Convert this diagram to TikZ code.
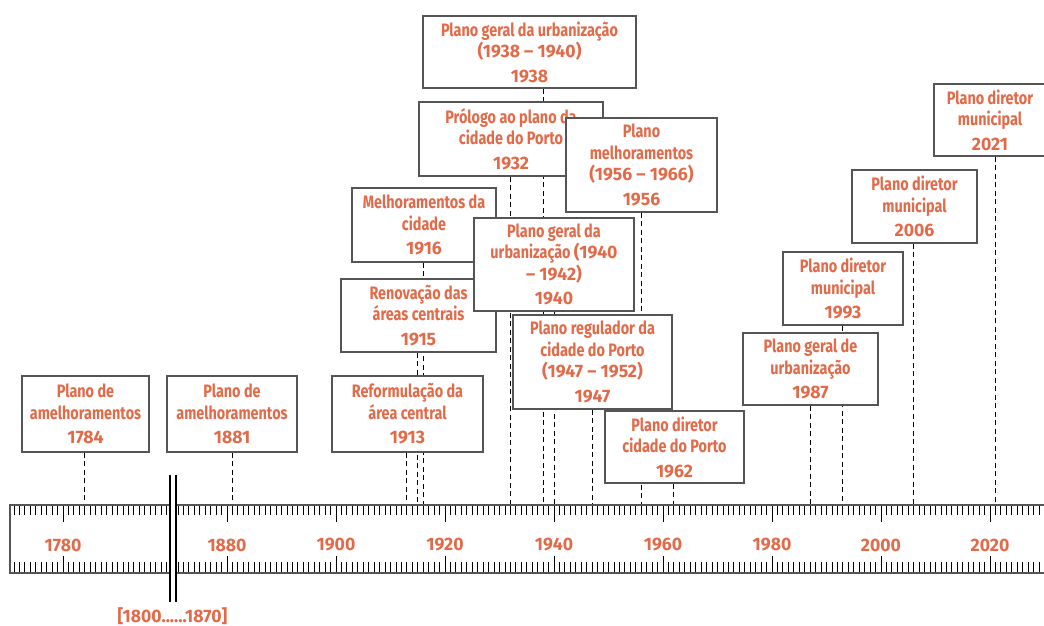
\documentclass[tikz,border=0pt]{standalone}
\usepackage{fontspec}
\setmainfont{Fira Sans}[FakeStretch=0.8]
\newfontfamily\numfont{Fira Sans}[FakeStretch=0.98]
\usepackage{tikz}
\usetikzlibrary{backgrounds}

\definecolor{planorange}{RGB}{226,106,72}
\definecolor{boxgray}{RGB}{85,85,85}

\begin{document}
\begin{tikzpicture}[x=1pt,y=-1pt,
  plan/.style={draw=boxgray, line width=1.6pt, fill=white, text=planorange,
    align=center, inner sep=0pt, font=\fontsize{18}{21.5}\selectfont\bfseries},
  guide/.style={draw=black, line width=0.9pt, dash pattern=on 5pt off 3.5pt},
  rulerline/.style={draw=boxgray, line width=1.6pt},
  yearlabel/.style={text=planorange, font=\fontsize{18}{20}\selectfont\numfont\bfseries}]
  \useasboundingbox (0,0) rectangle (1044,626);

  % points on the ruler
  \coordinate (t1784) at ({63+(1784-1780)*5.45},505);
  \foreach \y in {1881,1913,1915,1916,1932,1938,1940,1947,1956,1962,1987,1993,2006,2021}
    \coordinate (t\y) at ({554+(\y-1940)*5.45},505);

  % plans
  \node[plan, minimum width=127, minimum height=76] (p1784) at (85.5,414)
    {Plano de\\amelhoramentos\\[3pt]\numfont 1784};
  \node[plan, minimum width=130, minimum height=76] (p1881) at (232,414)
    {Plano de\\amelhoramentos\\[3pt]\numfont 1881};
  \node[plan, minimum width=151, minimum height=76] (p1913) at (407.5,414)
    {Reformulação da\\área central\\[3pt]\numfont 1913};
  \node[plan, minimum width=155, minimum height=73] (p1915) at (418.5,315.5)
    {Renovação das\\áreas centrais\\[3pt]\numfont 1915};
  \node[plan, minimum width=144, minimum height=74] (p1916) at (424,225)
    {Melhoramentos da\\cidade\\[3pt]\numfont 1916};
  \node[plan, minimum width=184, minimum height=74] (p1932) at (511,139)
    {Prólogo ao plano da\\cidade do Porto\\[3pt]\numfont 1932};
  \node[plan, minimum width=213, minimum height=72] (p1938) at (529.5,52)
    {Plano geral da urbanização\\\numfont (1938 – 1940)\\[3pt]\numfont 1938};
  \node[plan, minimum width=151, minimum height=94] (p1956) at (641.5,165)
    {Plano\\melhoramentos\\\numfont (1956 – 1966)\\[3pt]\numfont 1956};
  \node[plan, minimum width=160, minimum height=93] (p1940) at (554,264.5)
    {Plano geral da\\urbanização {\numfont (1940}\\\numfont – 1942)\\[3pt]\numfont 1940};
  \node[plan, minimum width=159, minimum height=94] (p1947) at (592.5,362)
    {Plano regulador da\\cidade do Porto\\\numfont (1947 – 1952)\\[3pt]\numfont 1947};
  \node[plan, minimum width=139, minimum height=72] (p1962) at (674.5,447)
    {Plano diretor\\cidade do Porto\\[3pt]\numfont 1962};
  \node[plan, minimum width=135, minimum height=72] (p1987) at (810.5,369)
    {Plano geral de\\urbanização\\[3pt]\numfont 1987};
  \node[plan, minimum width=120, minimum height=73] (p1993) at (843,288.5)
    {Plano diretor\\municipal\\[3pt]\numfont 1993};
  \node[plan, minimum width=125, minimum height=73] (p2006) at (914.5,206.5)
    {Plano diretor\\municipal\\[3pt]\numfont 2006};
  \node[plan, minimum width=112, minimum height=72] (p2021) at (990,120)
    {Plano diretor\\municipal\\[3pt]\numfont 2021};

  % dashed lines behind the boxes
  \begin{scope}[on background layer]
    \foreach \y in {1784,1881,1913,1915,1916,1932,1938,1940,1947,1956,1962,1987,1993,2006,2021}
      \draw[guide] (p\y.south -| t\y) -- (t\y);
  \end{scope}

  % ruler
  \foreach \y in {1771,...,1800} {
    \draw[line width=0.9pt] ({63+(\y-1780)*5.45},505) -- ++(0,10);
    \draw[line width=0.9pt] ({63+(\y-1780)*5.45},573) -- ++(0,-11);
  }
  \foreach \y in {1870,...,2030} {
    \draw[line width=0.9pt] ({554+(\y-1940)*5.45},505) -- ++(0,10);
    \draw[line width=0.9pt] ({554+(\y-1940)*5.45},573) -- ++(0,-11);
  }
  \draw[line width=0.9pt] (63,505) -- ++(0,17) (63,573) -- ++(0,-17);
  \node[yearlabel] (y1780) at (63,545) {1780};
  \foreach \y in {1880,1900,...,2020} {
    \draw[line width=0.9pt] ({554+(\y-1940)*5.45},505) -- ++(0,17);
    \draw[line width=0.9pt] ({554+(\y-1940)*5.45},573) -- ++(0,-17);
    \node[yearlabel] (y\y) at ({554+(\y-1940)*5.45},545) {\y};
  }
  \draw[rulerline] (1050,505) -- (10,505) -- (10,573) -- (1050,573);

  % break between 1800 and 1870
  \fill[white] (170,475) rectangle (175.5,602);
  \draw[line width=2pt] (170,475) -- (170,602) (175.5,475) -- (175.5,602);
  \node[yearlabel] (gap) at (172.5,616) {[1800......1870]};
\end{tikzpicture}
\end{document}
